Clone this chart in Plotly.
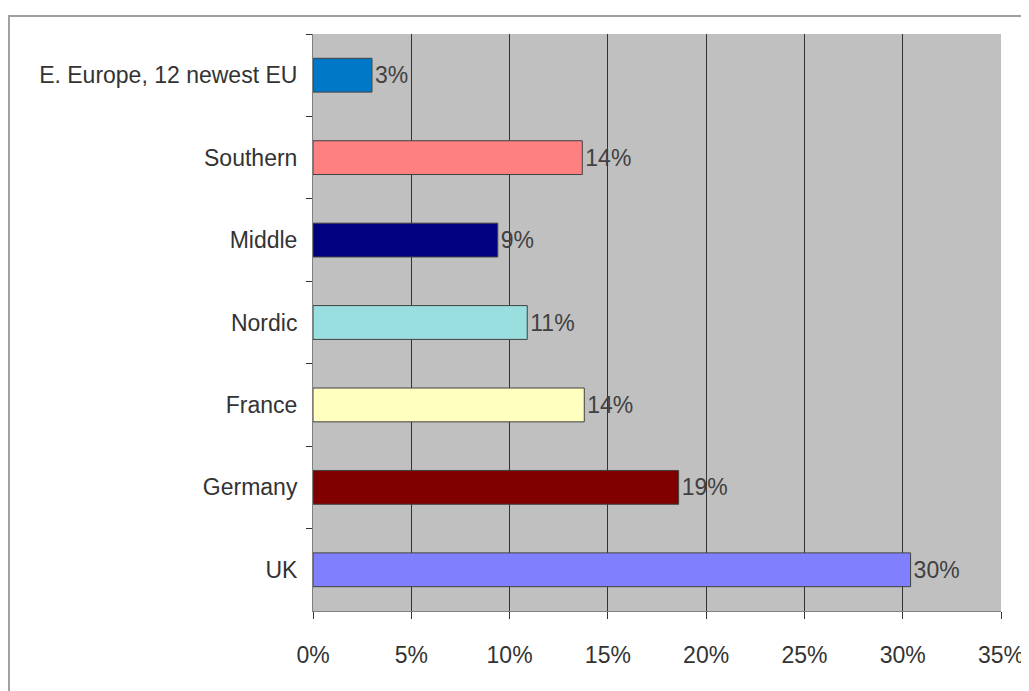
import plotly.graph_objects as go

categories = ["E. Europe, 12 newest EU", "Southern", "Middle", "Nordic", "France", "Germany", "UK"]
values = [3.0, 13.7, 9.4, 10.9, 13.8, 18.6, 30.4]
labels = ["3%", "14%", "9%", "11%", "14%", "19%", "30%"]
colors = ["#0078C8", "#FF8080", "#000080", "#9ADFE0", "#FFFFC0", "#800000", "#8080FF"]
x_ticks = [0, 5, 10, 15, 20, 25, 30, 35]
x_tick_labels = ["0%", "5%", "10%", "15%", "20%", "25%", "30%", "35%"]

font = "Liberation Sans, Arial, sans-serif"
fsize = 23

fig = go.Figure(go.Bar(
    x=values, y=categories, orientation="h",
    marker=dict(color=colors, line=dict(color="#404040", width=1)),
    width=0.41,
    text=labels, textposition="outside", cliponaxis=False,
    textfont=dict(family=font, size=fsize, color="#404040"),
))

fig.update_layout(
    width=1021, height=683,
    margin=dict(l=305, r=28, t=26, b=80, autoexpand=False),
    paper_bgcolor="white", plot_bgcolor="#C0C0C0",
    showlegend=False,
    font=dict(family=font, size=fsize, color="#333333"),
    shapes=[dict(type="rect", xref="paper", yref="paper",
                 x0=-0.4419, x1=1.3, y0=-0.3, y1=1.0312,
                 line=dict(color="#A0A0A0", width=2), layer="below")],
)
fig.update_xaxes(
    range=[0, 35], tickvals=x_ticks, ticktext=x_tick_labels,
    showgrid=True, gridcolor="#333333", gridwidth=1,
    ticks="outside", ticklen=7, tickcolor="#333333",
    showline=True, linecolor="#808080", zeroline=False,
    ticklabelstandoff=16, fixedrange=True, automargin=False,
)
fig.update_yaxes(
    autorange="reversed", tickson="boundaries",
    ticks="outside", ticklen=6, tickcolor="#333333",
    showline=True, linecolor="#808080", showgrid=False,
    ticklabelstandoff=10, automargin=False,
)

fig.write_html("out.html")
